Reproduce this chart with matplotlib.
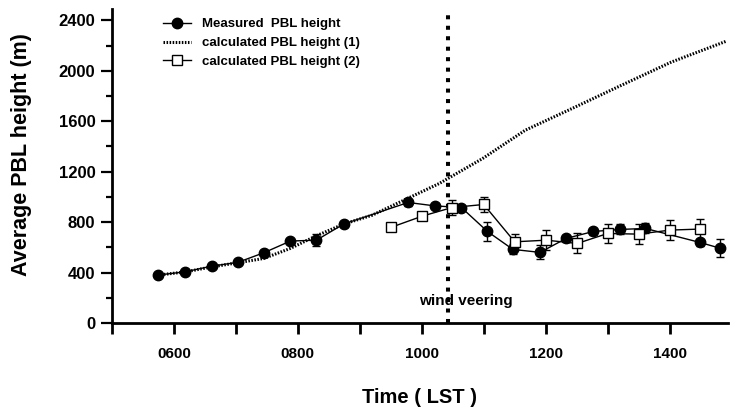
import matplotlib
matplotlib.use("Agg")
import matplotlib.pyplot as plt
from matplotlib.lines import Line2D
from matplotlib.ticker import MultipleLocator, FixedLocator, FuncFormatter

plt.rcParams['font.family'] = ['Liberation Sans', 'DejaVu Sans']
plt.rcParams['font.weight'] = 'bold'

# Measured PBL height
meas_t = [5.74, 6.18, 6.61, 7.03, 7.45, 7.88, 8.30, 8.74, 9.78, 10.21, 10.64, 11.06,
          11.47, 11.91, 12.33, 12.77, 13.20, 13.61, 14.49, 14.81]
meas_h = [380, 406, 451, 481, 557, 650, 657, 785, 956, 929, 916, 726,
          584, 560, 671, 726, 742, 750, 639, 594]
meas_err = [8, 10, 15, 15, 20, 15, 50, 20, 25, 20, 20, 72,
            40, 55, 25, 25, 40, 40, 30, 74]

# Calculated PBL height (1)
calc1_t = [5.74, 6.18, 6.61, 7.03, 7.45, 7.88, 8.30, 8.74, 9.20, 9.78, 10.28, 10.98,
           11.67, 12.42, 13.22, 14.03, 14.92]
calc1_h = [380, 405, 445, 478, 512, 592, 692, 785, 855, 990, 1106, 1304,
           1529, 1700, 1885, 2070, 2236]

# Calculated PBL height (2)
calc2_t = [9.50, 10.01, 10.49, 11.00, 11.50, 12.01, 12.51, 13.00, 13.50, 14.01, 14.49]
calc2_h = [758, 848, 916, 940, 644, 657, 631, 710, 705, 737, 745]
calc2_err = [15, 20, 58, 62, 61, 79, 79, 74, 82, 77, 83]

veer_t = 10.42

labels = ['Measured  PBL height', 'calculated PBL height (1)', 'calculated PBL height (2)']

fig = plt.figure(figsize=(7.3, 4.12), dpi=100)
ax = fig.add_axes([0.1534, 0.216, 0.8436, 0.762])

ax.errorbar(meas_t, meas_h, yerr=meas_err, fmt='-o', color='black', lw=1.0,
            ms=7.5, mfc='black', mec='black', capsize=3, elinewidth=1.0, capthick=1.0,
            zorder=4)
ax.plot(calc1_t, calc1_h, color='black', lw=2.2, ls=(0, (0.5, 0.5)), zorder=3)
ax.errorbar(calc2_t, calc2_h, yerr=calc2_err, fmt='-s', color='black', lw=1.0,
            ms=6.5, mfc='white', mec='black', mew=1.0, capsize=3, elinewidth=1.0, capthick=1.0,
            zorder=5)

ax.axvline(veer_t, color='black', lw=2.9, ls=(0, (1.0, 1.6)), zorder=2)
ax.text(10.71, 174, 'wind veering', ha='center', va='center',
        fontsize=11, fontweight='bold')

ax.set_xlim(5.0, 14.94)
ax.set_ylim(0, 2490)

ax.xaxis.set_major_locator(FixedLocator([6, 8, 10, 12, 14]))
ax.xaxis.set_minor_locator(FixedLocator([5, 7, 9, 11, 13]))
ax.xaxis.set_major_formatter(FuncFormatter(lambda v, p: '%02d00' % int(round(v))))
ax.yaxis.set_major_locator(MultipleLocator(400))
ax.yaxis.set_minor_locator(MultipleLocator(200))

ax.tick_params(axis='x', which='both', direction='out', length=8, width=2, pad=9,
               labelsize=11)
ax.tick_params(axis='y', which='major', direction='out', length=8, width=1.6, pad=4,
               labelsize=12)
ax.tick_params(axis='y', which='minor', direction='out', length=4, width=1.6)
for lbl in ax.get_xticklabels() + ax.get_yticklabels():
    lbl.set_fontweight('bold')

for s in ['top', 'right']:
    ax.spines[s].set_visible(False)
for s in ['left', 'bottom']:
    ax.spines[s].set_linewidth(2)

ax.set_xlabel('Time ( LST )', fontsize=14.5, fontweight='bold')
ax.xaxis.label.set_va('center')
ax.xaxis.set_label_coords(0.5, -0.236)
ax.set_ylabel('Average PBL height (m)', fontsize=15.5, fontweight='bold')
ax.yaxis.label.set_va('center')
ax.yaxis.set_label_coords(-0.147, 0.535)

handles = [
    Line2D([], [], color='black', lw=1.0, marker='o', ms=7.5, mfc='black', mec='black'),
    Line2D([], [], color='black', lw=2.2, ls=(0, (0.5, 0.5))),
    Line2D([], [], color='black', lw=1.0, marker='s', ms=6.5, mfc='white', mec='black'),
]
leg = ax.legend(handles, labels, loc='upper left', bbox_to_anchor=(0.214, 0.972),
                bbox_transform=fig.transFigure, frameon=False, borderpad=0,
                fontsize=9.5, handlelength=2.1, labelspacing=0.5, handletextpad=0.9)
for t in leg.get_texts():
    t.set_fontweight('bold')

fig.savefig('out.png', dpi=100)
